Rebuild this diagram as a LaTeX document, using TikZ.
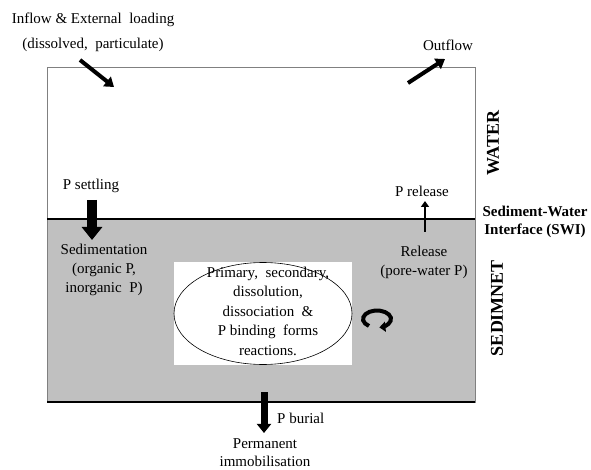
\documentclass[tikz,border=0pt]{standalone}
\usepackage{fontspec}
\setmainfont{Liberation Serif}
\usetikzlibrary{arrows.meta,shapes.geometric}
\begin{document}
\begin{tikzpicture}[x=1pt,y=-1pt,
  txt/.style={font=\fontsize{15}{19}\selectfont, inner sep=0pt, align=center},
  lbl/.style={font=\fontsize{15}{18}\selectfont\bfseries, inner sep=0pt, align=center},
  side/.style={font=\fontsize{18}{20}\selectfont\bfseries, inner sep=0pt, rotate=90},
  flow/.style={line width=4pt, -{Triangle[width=12pt,length=9pt]}},
  block/.style={line width=#1, -{Triangle[width=2*#1,length=1.3*#1]}}
]
\useasboundingbox (0,0) rectangle (591,470);
% sediment fill
\fill[fill={rgb,255:red,192;green,192;blue,192}] (47,219) rectangle (475,402);
% outer box
\draw[gray, line width=1pt] (47,68) rectangle (475,402);
% SWI line and bottom line
\coordinate (swiL) at (47,219);
\coordinate (swiR) at (475,219);
\coordinate (botL) at (47,402);
\coordinate (botR) at (475,402);
\draw[line width=2pt] (swiL) -- (swiR);
\draw[line width=2pt] (botL) -- (botR);
% ellipse area
\fill[white] (174,262) rectangle (352,365);
\node[draw, ellipse, minimum width=178pt, minimum height=102pt, inner sep=0pt, line width=0.6pt] (ell) at (263,313.5) {};
\node[txt, font=\fontsize{15}{19.5}\selectfont] (ellt) at (268,311) {Primary,\ \ secondary,\\dissolution,\\dissociation \ \&\\P binding \ forms\\reactions.};
% texts
\node[txt, font=\fontsize{15}{25}\selectfont] (inflow) at (93,32.5) {Inflow \& External \ loading\\(dissolved, \ particulate)};
\node[txt] (outflow) at (448,45) {Outflow};
\node[side] (water) at (493,143) {WATER};
\node[side] (sedim) at (497,308) {SEDIMNET};
\node[lbl] (swi) at (535,222) {Sediment-Water\\Interface (SWI)};
\node[txt] (psettle) at (91,186) {P settling};
\node[txt] (sedtx) at (104,270) {Sedimentation\\(organic P,\\inorganic \ P)};
\node[txt] (prel) at (422,191) {P release};
\node[txt] (reltx) at (424,262.5) {Release\\(pore-water P)};
\node[txt, anchor=west] (pbur) at (277,418) {P burial};
\node[txt, font=\fontsize{15}{18}\selectfont] (perm) at (265,452.5) {Permanent\\immobilisation};
% arrows
\coordinate (inA) at (80,60);
\coordinate (inB) at (114,87);
\draw[flow] (inA) -- (inB);
\coordinate (outA) at (408,83);
\coordinate (outB) at (445,59);
\draw[flow] (outA) -- (outB);
\coordinate (psA) at (92,200);
\coordinate (psB) at (92,240);
\draw[block=10pt] (psA) -- (psB);
\coordinate (prA) at (425,232);
\coordinate (prB) at (425,201);
\draw[line width=2.5pt, -{Triangle[width=8pt,length=6pt]}] (prA) -- (prB);
\coordinate (pbA) at (264,392);
\coordinate (pbB) at (264,433);
\draw[block=7pt] (pbA) -- (pbB);
% circular arrow
\coordinate (cc) at (377,319);
\draw[line width=4pt, -{Triangle[width=10pt,length=6pt]}] ([shift={(-235:14 and 8.5)}]cc) arc[start angle=-235, end angle=80, x radius=14, y radius=8.5];
\end{tikzpicture}
\end{document}
